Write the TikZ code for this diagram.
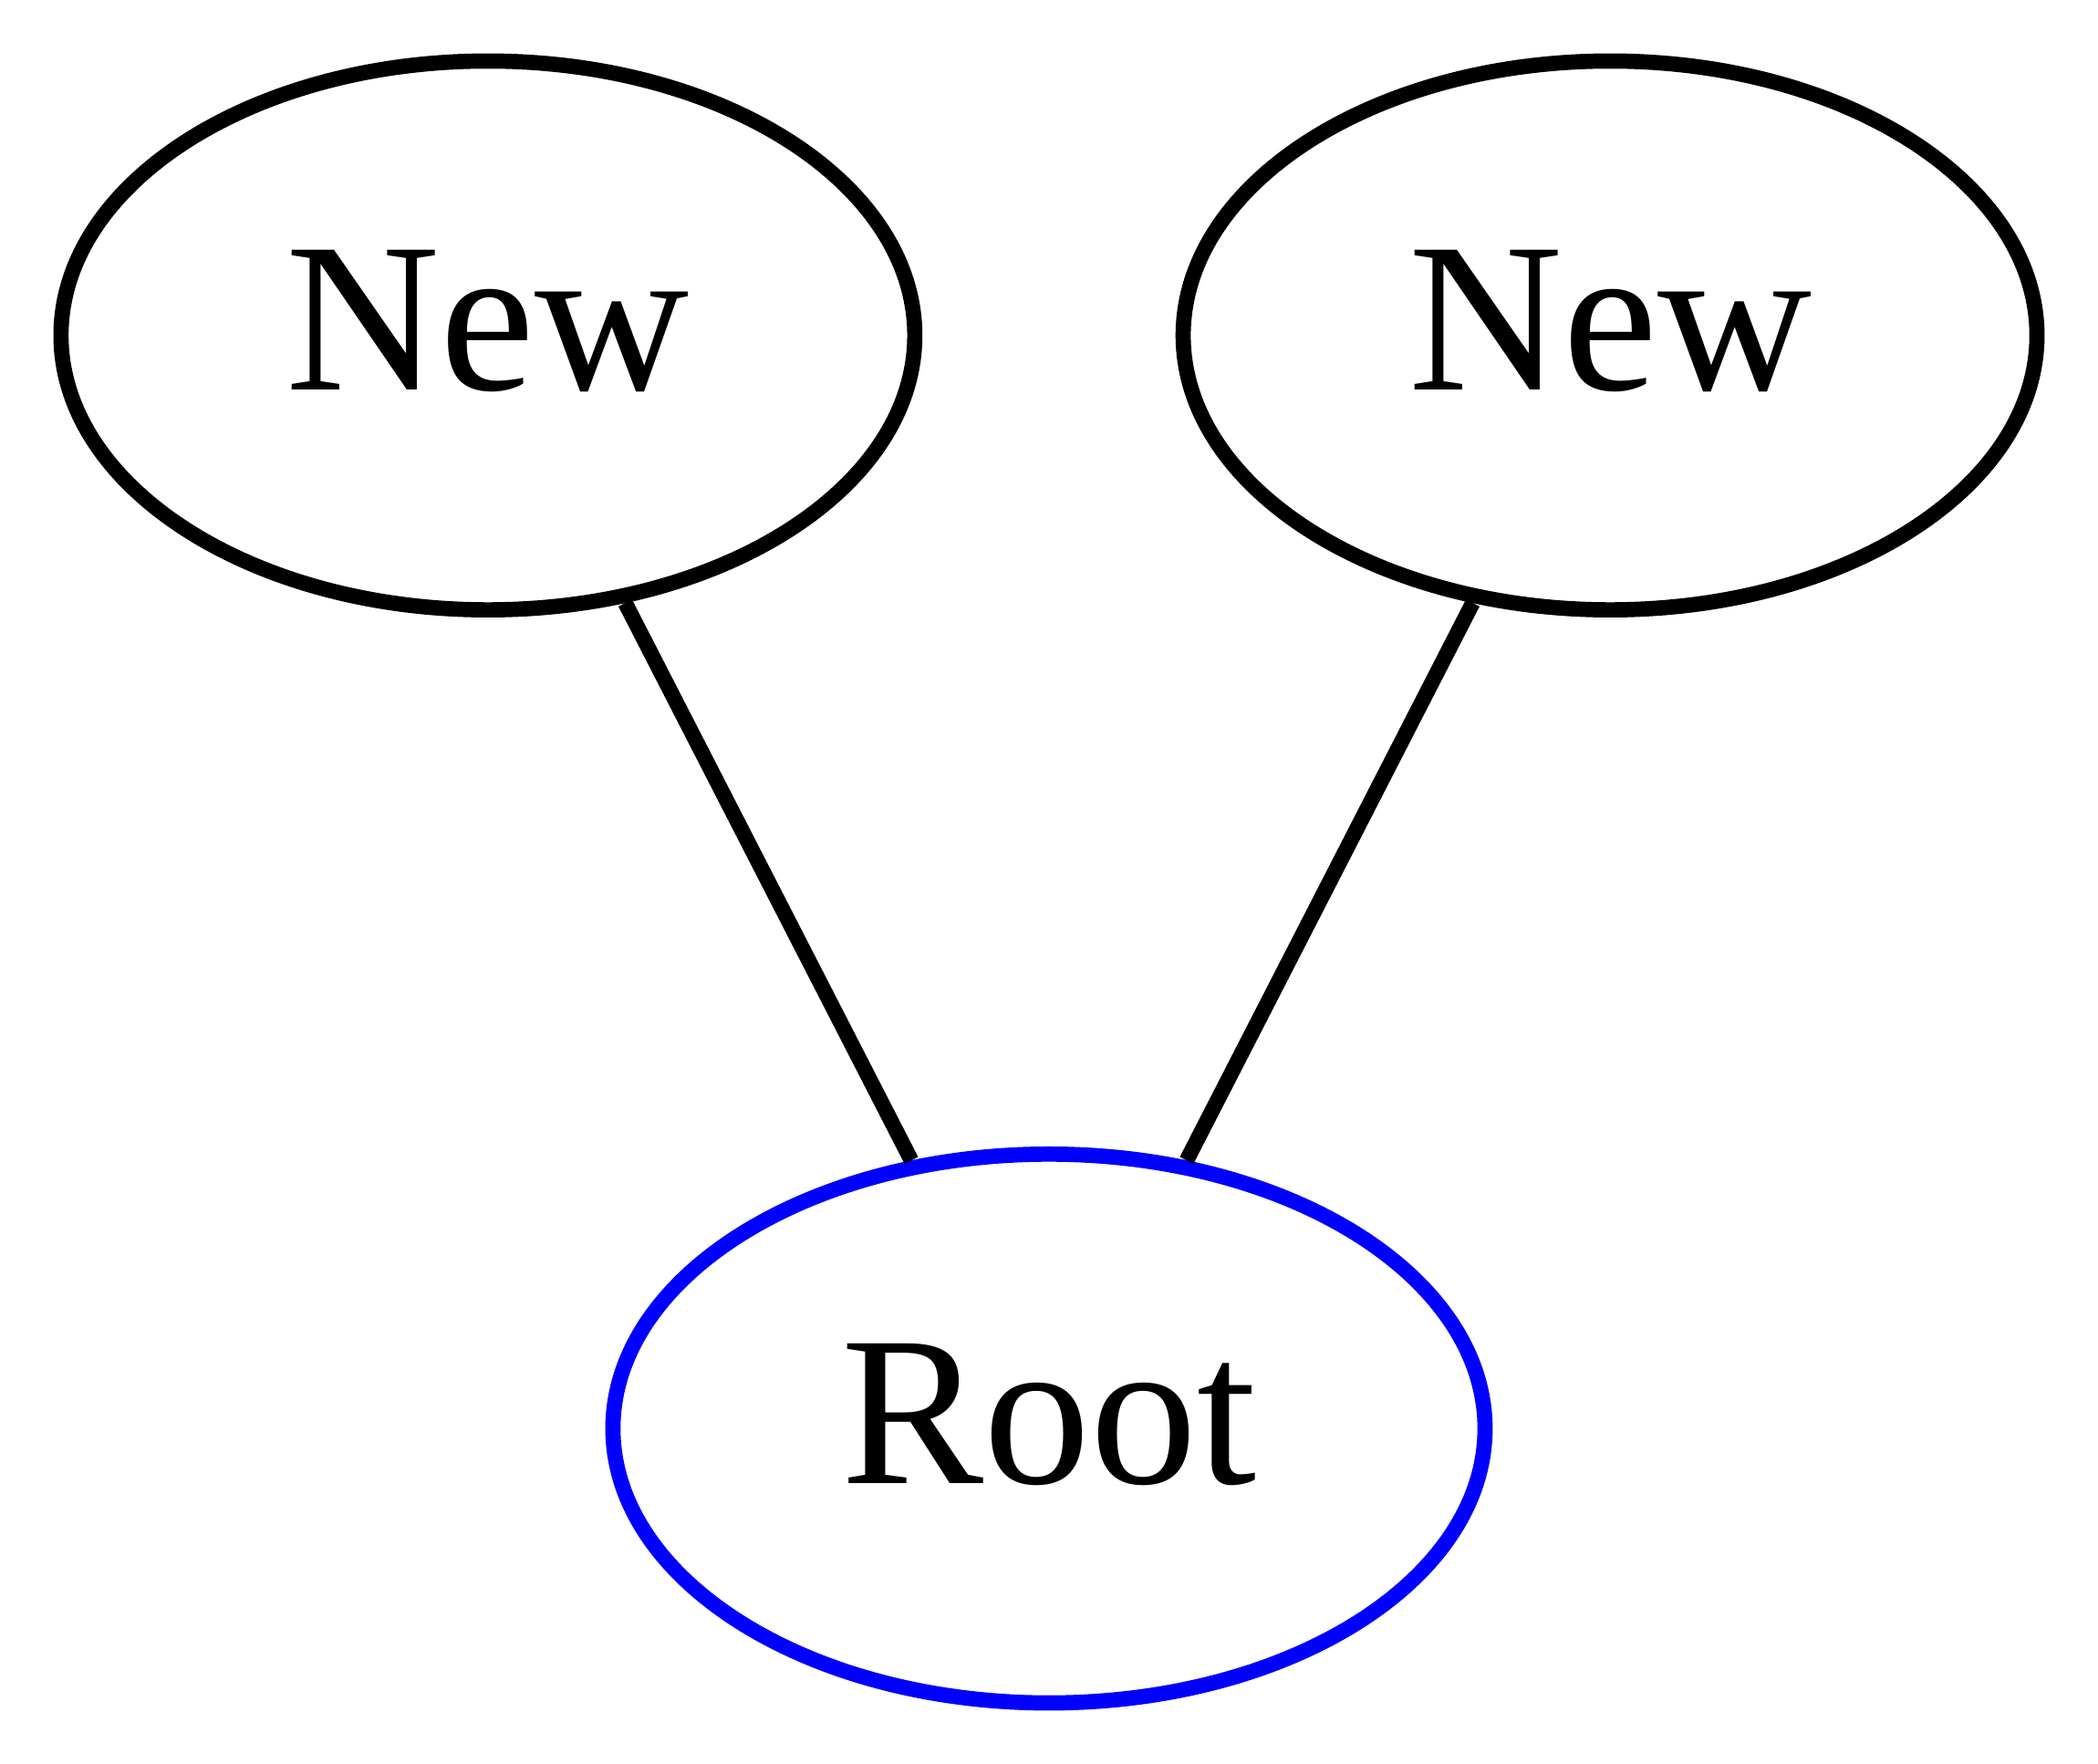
\documentclass[tikz,border=0pt]{standalone}
\usepackage{fontspec}
\setmainfont{Liberation Serif}
\usepackage{tikz}
\usetikzlibrary{shapes.geometric}

\begin{document}
\begin{tikzpicture}[x=1pt,y=-1pt,
	oval/.style={ellipse,draw,line width=1pt,inner sep=0pt,
		minimum width=56pt,minimum height=36pt,
		font=\fontsize{14}{16}\selectfont,text height=9.5pt,text depth=2.3pt},
	link/.style={line width=1pt}]
\useasboundingbox (0,0) rectangle (137.6,115.7);

\node[oval] (new1) at (32,22) {New};
\node[oval] (new2) at (105.6,22) {New};
\node[oval,draw=blue,minimum width=57.2pt] (root) at (68.8,93.7) {Root};

\draw[link] (new1) -- (root);
\draw[link] (new2) -- (root);
\end{tikzpicture}
\end{document}
